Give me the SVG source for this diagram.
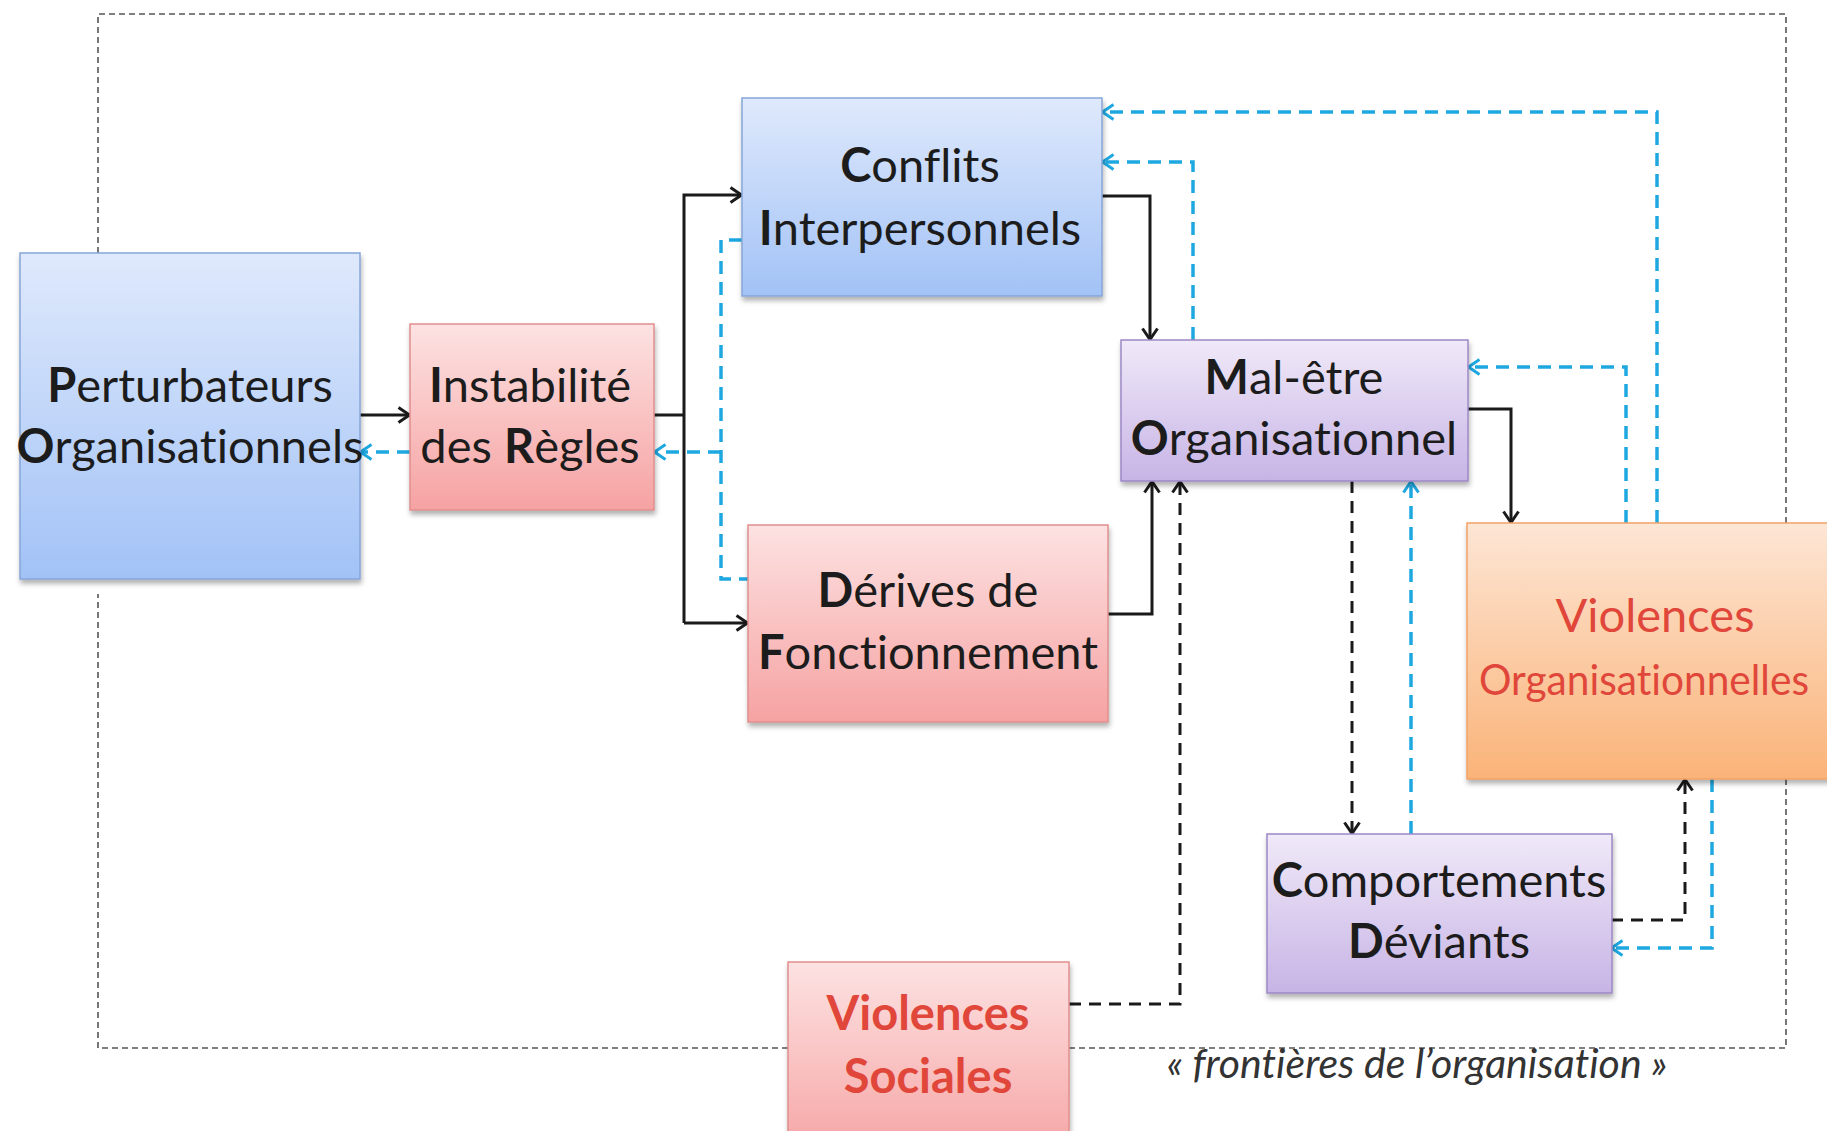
<svg xmlns="http://www.w3.org/2000/svg" width="1827" height="1131" viewBox="0 0 1827 1131">
<defs>
<linearGradient id="gBlue" x1="0" y1="0" x2="0" y2="1"><stop offset="0" stop-color="#dfe9fc"/><stop offset="1" stop-color="#a2c2f6"/></linearGradient>
<linearGradient id="gPink" x1="0" y1="0" x2="0" y2="1"><stop offset="0" stop-color="#fde2e2"/><stop offset="1" stop-color="#f6a2a2"/></linearGradient>
<linearGradient id="gPurple" x1="0" y1="0" x2="0" y2="1"><stop offset="0" stop-color="#f0e9f8"/><stop offset="1" stop-color="#c7b4e6"/></linearGradient>
<linearGradient id="gOrange" x1="0" y1="0" x2="0" y2="1"><stop offset="0" stop-color="#fde6d5"/><stop offset="1" stop-color="#fab378"/></linearGradient>
<filter id="sh" x="-10%" y="-10%" width="120%" height="125%"><feDropShadow dx="1" dy="4" stdDeviation="2.5" flood-color="#000" flood-opacity="0.3"/></filter>
<marker id="aK" viewBox="0 0 14 18" refX="13" refY="9" markerWidth="14" markerHeight="18" markerUnits="userSpaceOnUse" orient="auto"><path d="M1.5,1.5 L12.5,9 L1.5,16.5" fill="none" stroke="#1a1a1a" stroke-width="3" stroke-dasharray="none"/></marker>
<marker id="aB" viewBox="0 0 14 18" refX="13" refY="9" markerWidth="14" markerHeight="18" markerUnits="userSpaceOnUse" orient="auto"><path d="M1.5,1.5 L12.5,9 L1.5,16.5" fill="none" stroke="#1ea8e0" stroke-width="3" stroke-dasharray="none"/></marker>
<style>
.lbl{font-family:Lato,"Open Sans","Liberation Sans",sans-serif;font-size:47px;fill:#1c1c1c;text-anchor:middle;font-variant-ligatures:none}
.red{fill:#e0473a}
.b{font-weight:bold}
.box{stroke-width:1.5}
.k{fill:none;stroke:#1a1a1a;stroke-width:3;marker-end:url(#aK)}
.kd{fill:none;stroke:#1a1a1a;stroke-width:3;stroke-dasharray:12 8;marker-end:url(#aK)}
.bd{fill:none;stroke:#1ea8e0;stroke-width:3.5;stroke-dasharray:13 8;marker-end:url(#aB)}
.bdn{fill:none;stroke:#1ea8e0;stroke-width:3.5;stroke-dasharray:13 8}
.kn{fill:none;stroke:#1a1a1a;stroke-width:3}
.frontier{fill:none;stroke:#555;stroke-width:1.6;stroke-dasharray:6 4}
.note{font-family:Lato,"Open Sans","Liberation Sans",sans-serif;font-size:41px;font-style:italic;fill:#333;text-anchor:middle;font-variant-ligatures:none}
</style>
</defs>
<rect width="1827" height="1131" fill="#ffffff"/>
<g id="frontier">
<path class="frontier" d="M98,253 L98,14 L1786,14 L1786,523"/>
<path class="frontier" d="M1786,779 L1786,1048 L1069,1048"/>
<path class="frontier" d="M788,1048 L98,1048 L98,594"/>
<text class="note" x="1417" y="1078">« frontières de l’organisation »</text>
</g>
<g id="connectors">
<path class="kn" d="M654,415 L684,415"/>
<path class="k" d="M360,415 L410,415"/>
<path class="k" d="M684,623 L684,195 L742,195"/>
<path class="k" d="M684,623 L748,623"/>
<path class="k" d="M1102,196 L1150,196 L1150,340"/>
<path class="k" d="M1108,614 L1152,614 L1152,481"/>
<path class="k" d="M1468,409 L1511,409 L1511,523"/>
<path class="kd" d="M1069,1004 L1180,1004 L1180,481"/>
<path class="kd" d="M1352,481 L1352,834"/>
<path class="kd" d="M1611,920 L1685,920 L1685,779"/>
<path class="bd" d="M410,452 L360,452"/>
<path class="bdn" d="M742,240 L721,240 L721,579 L748,579"/>
<path class="bd" d="M721,452 L654,452"/>
<path class="bd" d="M1193,340 L1193,162 L1102,162"/>
<path class="bd" d="M1657,523 L1657,112 L1102,112"/>
<path class="bd" d="M1626,523 L1626,367 L1468,367"/>
<path class="bd" d="M1411,834 L1411,481"/>
<path class="bd" d="M1712,779 L1712,948 L1611,948"/>
</g>
<g id="perturbateurs">
<rect class="box" x="20" y="253" width="340" height="326" fill="url(#gBlue)" stroke="#86a6d8" filter="url(#sh)"/>
<text class="lbl" x="190" y="402"><tspan class="b">P</tspan>erturbateurs</text>
<text class="lbl" x="190" y="463"><tspan class="b">O</tspan>rganisationnels</text>
</g>
<g id="instabilite">
<rect class="box" x="410" y="324" width="244" height="186" fill="url(#gPink)" stroke="#e08e8e" filter="url(#sh)"/>
<text class="lbl" x="530" y="402"><tspan class="b">I</tspan>nstabilité</text>
<text class="lbl" x="530" y="463">des <tspan class="b">R</tspan>ègles</text>
</g>
<g id="conflits">
<rect class="box" x="742" y="98" width="360" height="198" fill="url(#gBlue)" stroke="#86a6d8" filter="url(#sh)"/>
<text class="lbl" x="920" y="182"><tspan class="b">C</tspan>onflits</text>
<text class="lbl" x="920" y="245"><tspan class="b">I</tspan>nterpersonnels</text>
</g>
<g id="derives">
<rect class="box" x="748" y="525" width="360" height="197" fill="url(#gPink)" stroke="#e08e8e" filter="url(#sh)"/>
<text class="lbl" x="928" y="607"><tspan class="b">D</tspan>érives de</text>
<text class="lbl" x="928" y="669"><tspan class="b">F</tspan>onctionnement</text>
</g>
<g id="maletre">
<rect class="box" x="1121" y="340" width="347" height="141" fill="url(#gPurple)" stroke="#9c88c6" filter="url(#sh)"/>
<text class="lbl" x="1294" y="394"><tspan class="b">M</tspan>al-être</text>
<text class="lbl" x="1294" y="455"><tspan class="b">O</tspan>rganisationnel</text>
</g>
<g id="violences-org">
<rect class="box" x="1467" y="523" width="420" height="256" fill="url(#gOrange)" stroke="#f2a265" filter="url(#sh)"/>
<text class="lbl red" x="1655" y="632">Violences</text>
<text class="lbl red" x="1479" y="695" style="text-anchor:start;font-size:43px" textLength="330" lengthAdjust="spacingAndGlyphs">Organisationnelles</text>
</g>
<g id="comportements">
<rect class="box" x="1267" y="834" width="345" height="159" fill="url(#gPurple)" stroke="#9c88c6" filter="url(#sh)"/>
<text class="lbl" x="1439" y="897"><tspan class="b">C</tspan>omportements</text>
<text class="lbl" x="1439" y="958"><tspan class="b">D</tspan>éviants</text>
</g>
<g id="violences-sociales">
<rect class="box" x="788" y="962" width="281" height="200" fill="url(#gPink)" stroke="#e08e8e" filter="url(#sh)"/>
<text class="lbl red b" x="928" y="1030">Violences</text>
<text class="lbl red b" x="928" y="1093">Sociales</text>
</g>
</svg>
